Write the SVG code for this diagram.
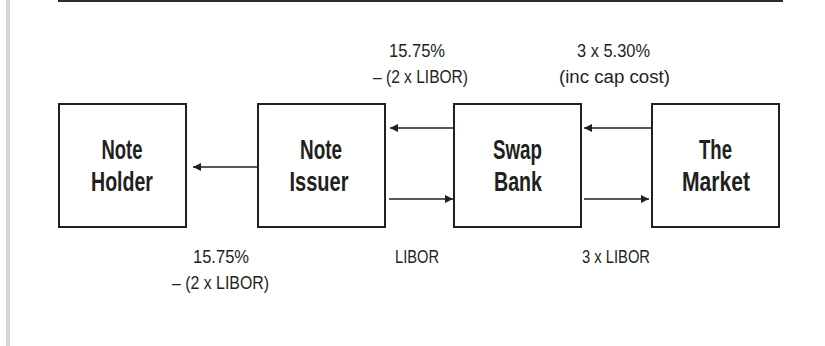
<svg xmlns="http://www.w3.org/2000/svg" width="825" height="346" viewBox="0 0 825 346">
<style>
.box{fill:#fff;stroke:#231f20;stroke-width:2}
.nl{font-family:"Liberation Sans",Arial,sans-serif;font-weight:bold;font-size:28px;fill:#231f20;text-anchor:middle}
.lb{font-family:"Liberation Sans",Arial,sans-serif;font-size:18px;fill:#231f20;text-anchor:middle}
.cn{stroke:#231f20;stroke-width:1.6;fill:none;marker-end:url(#ah)}
</style>
<defs>
<marker id="ah" viewBox="0 0 10 10" refX="10" refY="5" markerWidth="8" markerHeight="8" markerUnits="userSpaceOnUse" orient="auto">
<path d="M0,0 L10,5 L0,10 Z" fill="#231f20"/>
</marker>
</defs>
<rect x="0" y="0" width="825" height="346" fill="#fff"/>
<rect x="6" y="0" width="4" height="346" fill="#d4d4d4"/>
<rect x="58" y="0" width="725" height="2" fill="#2b2b2b"/>

<g id="connectors">
<line class="cn" x1="257" y1="167" x2="193" y2="167"/>
<line class="cn" x1="454" y1="128" x2="390" y2="128"/>
<line class="cn" x1="389" y1="199" x2="453" y2="199"/>
<line class="cn" x1="651" y1="128" x2="584" y2="128"/>
<line class="cn" x1="584" y1="199" x2="649" y2="199"/>
</g>

<g id="note-holder">
<rect class="box" x="59" y="104" width="127" height="123"/>
<text class="nl" x="122" y="159" textLength="41" lengthAdjust="spacingAndGlyphs">Note</text>
<text class="nl" x="122" y="191" textLength="62" lengthAdjust="spacingAndGlyphs">Holder</text>
</g>
<g id="note-issuer">
<rect class="box" x="258" y="104" width="127" height="123"/>
<text class="nl" x="321" y="159" textLength="42" lengthAdjust="spacingAndGlyphs">Note</text>
<text class="nl" x="319" y="191" textLength="59" lengthAdjust="spacingAndGlyphs">Issuer</text>
</g>
<g id="swap-bank">
<rect class="box" x="454" y="104" width="127" height="123"/>
<text class="nl" x="517.5" y="159" textLength="49" lengthAdjust="spacingAndGlyphs">Swap</text>
<text class="nl" x="518" y="191" textLength="48" lengthAdjust="spacingAndGlyphs">Bank</text>
</g>
<g id="the-market">
<rect class="box" x="652" y="104" width="127" height="123"/>
<text class="nl" x="715.5" y="159" textLength="33" lengthAdjust="spacingAndGlyphs">The</text>
<text class="nl" x="716" y="191" textLength="68" lengthAdjust="spacingAndGlyphs">Market</text>
</g>

<g id="labels">
<text class="lb" x="417" y="57" textLength="56" lengthAdjust="spacingAndGlyphs">15.75%</text>
<text class="lb" x="420.5" y="83" textLength="95" lengthAdjust="spacingAndGlyphs">– (2 x LIBOR)</text>
<text class="lb" x="613.5" y="57" textLength="73" lengthAdjust="spacingAndGlyphs">3 x 5.30%</text>
<text class="lb" x="614.5" y="83" textLength="111" lengthAdjust="spacingAndGlyphs">(inc cap cost)</text>
<text class="lb" x="221" y="263" textLength="56" lengthAdjust="spacingAndGlyphs">15.75%</text>
<text class="lb" x="220.5" y="289" textLength="97" lengthAdjust="spacingAndGlyphs">– (2 x LIBOR)</text>
<text class="lb" x="417" y="263" textLength="44" lengthAdjust="spacingAndGlyphs">LIBOR</text>
<text class="lb" x="616" y="263" textLength="68" lengthAdjust="spacingAndGlyphs">3 x LIBOR</text>
</g>
</svg>
